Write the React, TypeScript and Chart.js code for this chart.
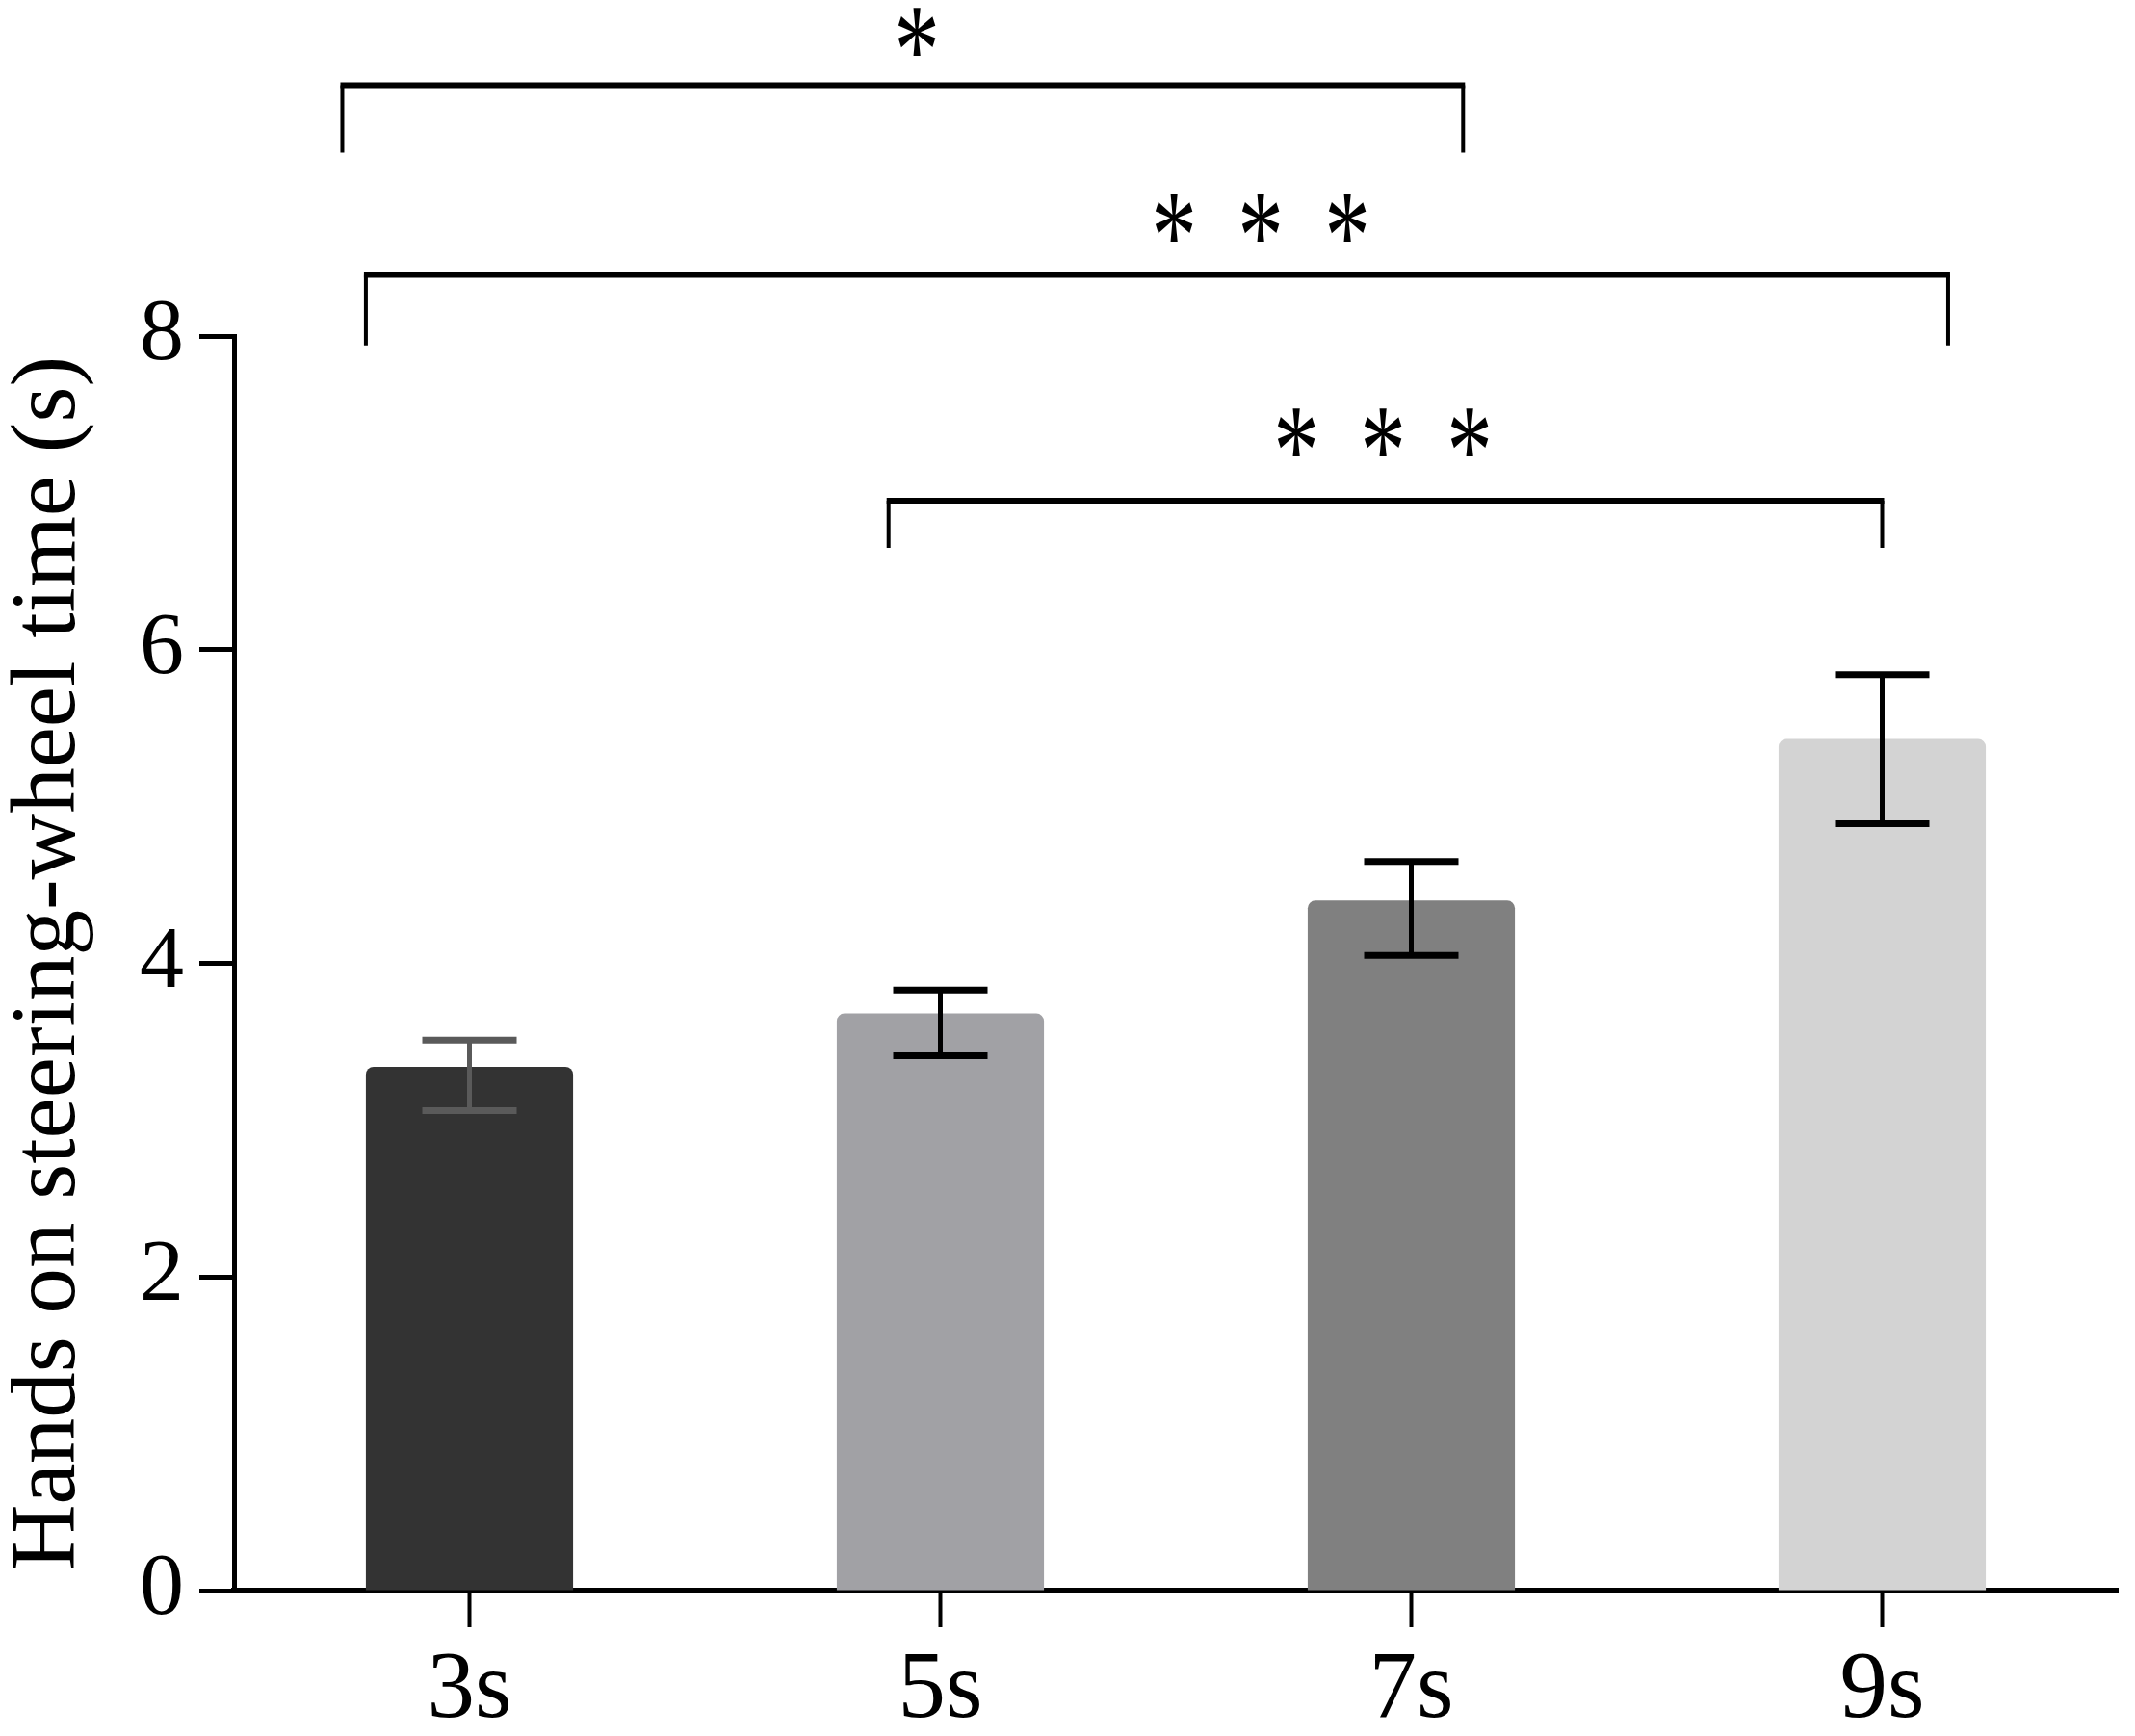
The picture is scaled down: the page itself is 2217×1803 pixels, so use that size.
import { useEffect, useRef } from "react"
import { Chart, registerables } from "chart.js"

Chart.register(...registerables)

// categorias e valores
const categories = ["3s", "5s", "7s", "9s"]
const means = [3.34, 3.68, 4.4, 5.43]
const errHigh = [3.51, 3.83, 4.65, 5.84]
const errLow = [3.06, 3.41, 4.05, 4.89]
const barColors = ["#333333", "#a1a1a5", "#808080", "#d3d3d3"]
const errColors = ["#5a5a5a", "#000000", "#000000", "#000000"]
const yTicks = [0, 2, 4, 6, 8]

// colchetes de significância (x em índice de categoria, y em segundos)
const bracketFrom = [-0.27, -0.22, 0.89]
const bracketTo = [2.11, 3.14, 3.0]
const bracketY = [9.6, 8.39, 6.95]
const bracketLegY = [9.17, 7.94, 6.65]
const bracketLabels = ["*", "***", "***"]
const starX = [0.95, 1.68, 1.94]
const starY = [9.93, 8.75, 7.38]

const SERIF = '"Liberation Serif", "Times New Roman", serif'

const overlayPlugin = {
  id: "overlay",
  afterDatasetsDraw(chart: any) {
    const { ctx, scales } = chart
    const x = scales.x
    const y = scales.y
    ctx.save()
    ctx.lineCap = "butt"

    // barras de erro
    means.forEach((_, i) => {
      const cx = x.getPixelForValue(i)
      const top = y.getPixelForValue(errHigh[i])
      const bot = y.getPixelForValue(errLow[i])
      ctx.strokeStyle = errColors[i]
      ctx.lineWidth = 5
      ctx.beginPath()
      ctx.moveTo(cx, top)
      ctx.lineTo(cx, bot)
      ctx.stroke()
      ctx.lineWidth = 7
      ctx.beginPath()
      ctx.moveTo(cx - 49, top)
      ctx.lineTo(cx + 49, top)
      ctx.moveTo(cx - 49, bot)
      ctx.lineTo(cx + 49, bot)
      ctx.stroke()
    })

    // colchetes
    ctx.strokeStyle = "#000"
    bracketFrom.forEach((from, i) => {
      const x1 = x.getPixelForValue(from)
      const x2 = x.getPixelForValue(bracketTo[i])
      const yb = y.getPixelForValue(bracketY[i])
      const yl = y.getPixelForValue(bracketLegY[i])
      ctx.lineWidth = 4
      ctx.beginPath()
      ctx.moveTo(x1, yb)
      ctx.lineTo(x1, yl)
      ctx.moveTo(x2, yb)
      ctx.lineTo(x2, yl)
      ctx.stroke()
      ctx.lineWidth = 6
      ctx.beginPath()
      ctx.moveTo(x1 - 2, yb)
      ctx.lineTo(x2 + 2, yb)
      ctx.stroke()

      // asteriscos
      const n = bracketLabels[i].length
      const cx = x.getPixelForValue(starX[i])
      const cy = y.getPixelForValue(starY[i])
      ctx.font = `100px ${SERIF}`
      ctx.fillStyle = "#000"
      ctx.textAlign = "center"
      ctx.textBaseline = "alphabetic"
      const m = ctx.measureText("*")
      const h = m.actualBoundingBoxAscent + m.actualBoundingBoxDescent
      const w = m.actualBoundingBoxLeft + m.actualBoundingBoxRight
      const sy = 50 / h
      const sx = 40 / w
      for (let k = 0; k < n; k++) {
        const sxPos = cx + (k - (n - 1) / 2) * 90
        ctx.save()
        ctx.translate(sxPos, cy)
        ctx.scale(sx, sy)
        ctx.fillText("*", (m.actualBoundingBoxLeft - m.actualBoundingBoxRight) / 2, (m.actualBoundingBoxAscent - m.actualBoundingBoxDescent) / 2)
        ctx.restore()
      }
    })
    ctx.restore()
  },
}

function SteeringChart() {
  const chartRef = useRef<HTMLCanvasElement>(null)
  const chartInstance = useRef<Chart | null>(null)

  useEffect(() => {
    if (!chartRef.current) return
    if (chartInstance.current) chartInstance.current.destroy()
    const ctx = chartRef.current.getContext("2d")
    if (!ctx) return

    chartInstance.current = new Chart(ctx, {
      type: "bar",
      data: {
        labels: categories,
        datasets: [
          {
            data: means,
            backgroundColor: barColors,
            borderWidth: 0,
            borderRadius: { topLeft: 8, topRight: 8, bottomLeft: 0, bottomRight: 0 },
            borderSkipped: false,
            barPercentage: 0.44,
            categoryPercentage: 1,
          },
        ],
      },
      options: {
        responsive: false,
        animation: false,
        devicePixelRatio: 1,
        layout: { padding: { top: 349, right: 18, left: 0, bottom: 0 } },
        plugins: {
          legend: { display: false },
          tooltip: { enabled: false },
        },
        scales: {
          x: {
            afterFit: (scale: any) => {
              scale.height = 151
            },
            grid: {
              offset: false,
              drawOnChartArea: false,
              drawTicks: true,
              tickLength: 38,
              tickWidth: 4,
              tickColor: "#000",
            },
            border: { display: true, color: "#000", width: 6 },
            ticks: {
              color: "#000",
              padding: 8,
              font: { family: SERIF, size: 99 },
            },
          },
          y: {
            min: 0,
            max: 8,
            afterFit: (scale: any) => {
              scale.width = 243
            },
            afterBuildTicks: (scale: any) => {
              scale.ticks = yTicks.map((v) => ({ value: v }))
            },
            grid: {
              drawOnChartArea: false,
              drawTicks: true,
              tickLength: 36,
              tickWidth: 5,
              tickColor: "#000",
            },
            border: { display: true, color: "#000", width: 5 },
            ticks: {
              color: "#000",
              padding: 16,
              font: { family: SERIF, size: 92 },
            },
            title: {
              display: true,
              text: "Hands on steering-wheel time (s)",
              color: "#000",
              padding: 0,
              font: { family: SERIF, size: 95, lineHeight: 1.1 },
            },
          },
        },
      },
      plugins: [overlayPlugin],
    })

    return () => {
      if (chartInstance.current) {
        chartInstance.current.destroy()
        chartInstance.current = null
      }
    }
  }, [])

  return <canvas ref={chartRef} width={2217} height={1803} />
}

export default function App() {
  return (
    <div style={{ position: "absolute", left: 0, top: 0, width: 2217, height: 1803, background: "#fff" }}>
      <SteeringChart />
    </div>
  )
}
